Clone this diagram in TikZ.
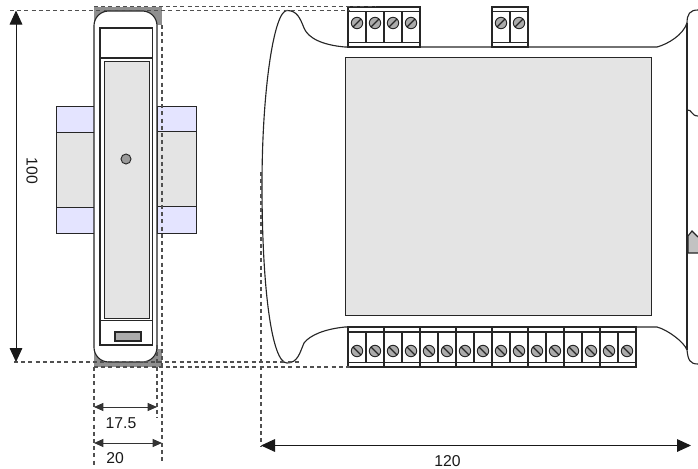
\documentclass[tikz,border=0pt]{standalone}
\usepackage{fontspec}
\setmainfont{Liberation Sans}
\usetikzlibrary{arrows.meta}

\definecolor{panelgray}{HTML}{E4E4E4}
\definecolor{clipblue}{HTML}{E4E4FF}
\definecolor{screwgray}{HTML}{ABABAB}
\definecolor{cornergray}{HTML}{8F8F8F}
\definecolor{dashgray}{HTML}{505050}

\tikzset{
    outline/.style = {draw = black!85, line width = 0.85pt},
    thin outline/.style = {draw = black!85, line width = 0.7pt},
    dimline/.style = {dashgray, line width = 0.85pt, dash pattern = on 3pt off 2.4pt},
    bigdim/.style = {black!90, line width = 0.75pt, {Triangle[length=10.5pt,width=9.5pt]}-{Triangle[length=10.5pt,width=9.5pt]}},
    smalldim/.style = {black!80, line width = 0.75pt, {Triangle[length=7pt,width=6pt]}-{Triangle[length=7pt,width=6pt]}},
    dimtext/.style = {font = \fontsize{11.8}{13}\selectfont, inner sep = 0pt, text = black!90}
}

\begin{document}
\begin{tikzpicture}[x=0.75pt,y=-0.75pt]

    \useasboundingbox (0,0) rectangle (698,468);

    %clips behind the front view
    \filldraw[thin outline, fill = clipblue] (56.5,106) rectangle (94,233.5);
    \filldraw[thin outline, fill = panelgray] (56.5,132.5) rectangle (94,207.5);
    \filldraw[thin outline, fill = clipblue] (157,106) rectangle (196.5,233.5);
    \filldraw[thin outline, fill = panelgray] (157,131) rectangle (196.5,206);

    %front view
    \fill[cornergray] (94,7) rectangle (162,25);
    \fill[cornergray] (94,349) rectangle (162,367);
    \filldraw[outline, fill = white, rounded corners = 11pt] (94,11) rectangle (157,362);
    \draw[outline] (100,28) rectangle (152.5,345);
    \draw[outline] (100,58) -- (152.5,58);
    \draw[outline] (100,320.5) -- (152.5,320.5);
    \filldraw[thin outline, fill = panelgray] (104.5,61) rectangle (149,318);
    \filldraw[outline, fill = screwgray] (115,332) rectangle (141,341);
    \filldraw[thin outline, fill = screwgray!90!black] (126,159) circle (5);

    %side view
    \draw[outline]
    (345,47) .. controls (322,45) and (308,38) .. (304,28)
    .. controls (300,18) and (297,10.5) .. (287,10.5)
    .. controls (274,10.5) and (262,90) .. (262,185)
    .. controls (262,290) and (272,363) .. (287,363)
    .. controls (298,363) and (300,352) .. (304,343)
    .. controls (310,335) and (325,329) .. (345,327);
    \draw[outline] (345,47) -- (657,47) .. controls (668,44) and (683,35) .. (687,23)
    .. controls (687,14) and (690,10) .. (698,10);
    \draw[outline] (345,327) -- (657,327) .. controls (668,330) and (684,342) .. (687,350)
    .. controls (688,360) and (690,364) .. (698,364);
    \draw[outline] (687,23) -- (687,350);
    \draw[outline] (687,110) .. controls (692,109) and (691,116) .. (698,116);
    \filldraw[outline, fill = panelgray!85!black] (698,237) -- (692,231) -- (688,236) -- (688,253) -- (698,253);
    \filldraw[thin outline, fill = panelgray] (345,57) rectangle (651,315);

    %terminal blocks
    \filldraw[outline, fill = white] (348,7) rectangle (420,47);
    \draw[outline] (348,11.5) -- (420,11.5) (348,42.5) -- (420,42.5);
    \foreach \x in {366,384,402} \draw[outline] (\x,11.5) -- (\x,42.5);
    \foreach \x in {357,375,393,411} {
        \filldraw[thin outline, fill = screwgray] (\x,23) circle (5.7);
        \draw[outline] (\x-4,27) -- (\x+4,19);
    }

    \filldraw[outline, fill = white] (492,7) rectangle (528,47);
    \draw[outline] (492,11.5) -- (528,11.5) (492,42.5) -- (528,42.5) (510,11.5) -- (510,42.5);
    \foreach \x in {501,519} {
        \filldraw[thin outline, fill = screwgray] (\x,23) circle (5.7);
        \draw[outline] (\x-4,27) -- (\x+4,19);
    }

    \filldraw[outline, fill = white] (348,327) rectangle (636,367);
    \draw[outline] (348,332) -- (636,332) (348,362.5) -- (636,362.5);
    \foreach \x in {366,402,...,618} \draw[outline] (\x,332) -- (\x,362.5);
    \foreach \x in {384,420,...,600} \draw[outline] (\x,327) -- (\x,367);
    \foreach \x in {357,375,...,627} {
        \filldraw[thin outline, fill = screwgray] (\x,351) circle (5.7);
        \draw[outline] (\x-4,347) -- (\x+4,355);
    }

    %dashed guides
    \draw[dimline] (10,10.5) -- (350,10.5);
    \draw[dimline] (94,6.5) -- (375,6.5);
    \draw[dimline] (14,362) -- (300,362);
    \draw[dimline] (94,367) -- (350,367);
    \draw[dimline] (94,367) -- (94,465);
    \draw[dimline] (157,345) -- (157,418);
    \draw[dimline] (162,25) -- (162,463);
    \draw[dimline] (261,172) -- (261,447);

    %dimensions
    \coordinate (hTop) at (16,10.5);
    \coordinate (hBot) at (16,362);
    \coordinate (wA) at (94,407);
    \coordinate (wB) at (157,407);
    \coordinate (wC) at (94,443);
    \coordinate (wD) at (162,443);
    \coordinate (lA) at (261,445.5);
    \coordinate (lB) at (691,445.5);

    \path
    (hTop) edge [bigdim] (hBot)
    (wA) edge [smalldim] (wB)
    (wC) edge [smalldim] (wD)
    (lA) edge [bigdim] (lB);

    \node[dimtext, rotate = -90] (lab100) at (32,171) {100};
    \node[dimtext] (lab175) at (121,423) {17.5};
    \node[dimtext] (lab20) at (115,458.5) {20};
    \node[dimtext] (lab120) at (447.5,461) {120};

\end{tikzpicture}
\end{document}
